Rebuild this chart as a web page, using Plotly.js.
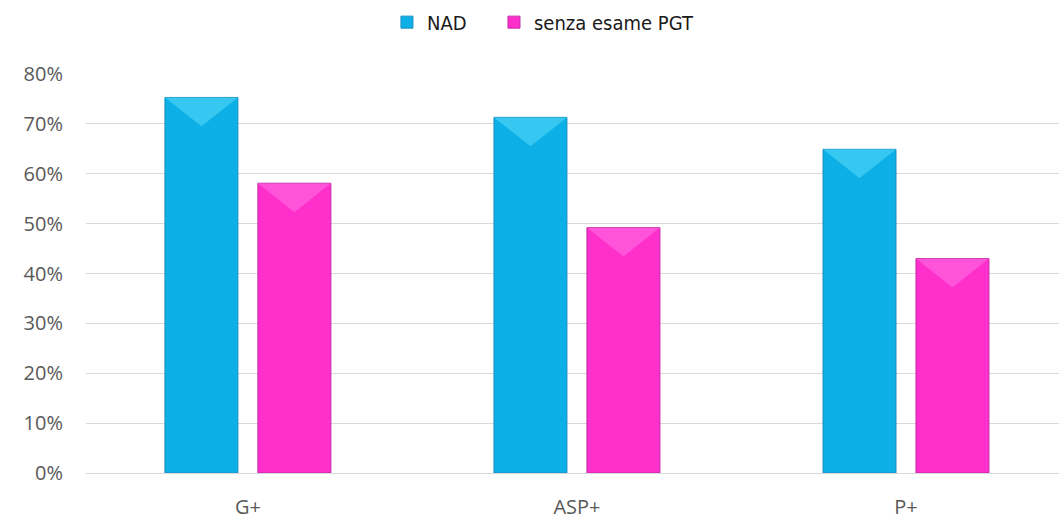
<!DOCTYPE html>
<html>
<head>
<meta charset="utf-8">
<script src="https://cdn.plot.ly/plotly-3.0.1.min.js"></script>
<style>html,body{margin:0;padding:0;background:#fff;}#chart{width:1059px;height:519px;}</style>
</head>
<body>
<div id="chart"></div>
<script>
const categories = ["G+", "ASP+", "P+"];
const nadValues = [0.753, 0.713, 0.649];
const senzaValues = [0.581, 0.492, 0.430];
const seriesNames = ["NAD", "senza esame PGT"];
const yTickVals = [0, 0.1, 0.2, 0.3, 0.4, 0.5, 0.6, 0.7, 0.8];
const yTickText = ["0%", "10%", "20%", "30%", "40%", "50%", "60%", "70%", "80%"];

const bargap = 0.435, bargroupgap = 0.215;
const slot = (1 - bargap) / 2;
const halfW = slot * (1 - bargroupgap) / 2;
const bevelDepth = 0.058;

function bevel(values, offset, color) {
  return values.map((v, i) => {
    const c = i + offset;
    return {
      type: "path", xref: "x", yref: "y", layer: "above",
      path: `M ${c - halfW} ${v} L ${c + halfW} ${v} L ${c} ${v - bevelDepth} Z`,
      fillcolor: color, opacity: 0.5, line: {width: 0}
    };
  });
}

const traces = [
  {type: "bar", x: [0, 1, 2], y: nadValues, name: seriesNames[0], legend: "legend",
   marker: {color: "#0db0e6", line: {color: "#1a8fc0", width: 1}}},
  {type: "bar", x: [0, 1, 2], y: senzaValues, name: seriesNames[1], legend: "legend2",
   marker: {color: "#ff2fcc", line: {color: "#c22ba8", width: 1}}}
];

const legendFont = {family: "DejaVu Sans Condensed, DejaVu Sans", size: 20, color: "#1a1a1a"};

const layout = {
  width: 1059, height: 519,
  margin: {l: 86, r: 0, t: 74, b: 46},
  paper_bgcolor: "#ffffff", plot_bgcolor: "#ffffff",
  barmode: "group", bargap: bargap, bargroupgap: bargroupgap,
  showlegend: true,
  legend: {orientation: "h", x: 0.3093, xanchor: "left", y: 1.13, yanchor: "middle",
    font: legendFont, bgcolor: "rgba(0,0,0,0)"},
  legend2: {orientation: "h", x: 0.4193, xanchor: "left", y: 1.13, yanchor: "middle",
    font: legendFont, bgcolor: "rgba(0,0,0,0)"},
  xaxis: {range: [-0.492, 2.465], tickvals: [0, 1, 2], ticktext: categories,
    showgrid: false, zeroline: false, showline: false, ticks: "", ticklabelstandoff: 20,
    tickfont: {family: "Open Sans", size: 20, color: "#595959"}},
  yaxis: {range: [0, 0.8], tickvals: yTickVals, ticktext: yTickText,
    showgrid: true, gridcolor: "#d9d9d9", gridwidth: 1, zeroline: true, zerolinecolor: "#d9d9d9",
    showline: false, ticks: "", ticklabelstandoff: 22,
    tickfont: {family: "Open Sans", size: 20, color: "#595959"}},
  shapes: bevel(nadValues, -slot / 2, "#5fe0fb").concat(bevel(senzaValues, slot / 2, "#ff7ae6")),
  font: {family: "Open Sans"}
};

Plotly.newPlot("chart", traces, layout, {displayModeBar: false, staticPlot: true});
</script>
</body>
</html>
